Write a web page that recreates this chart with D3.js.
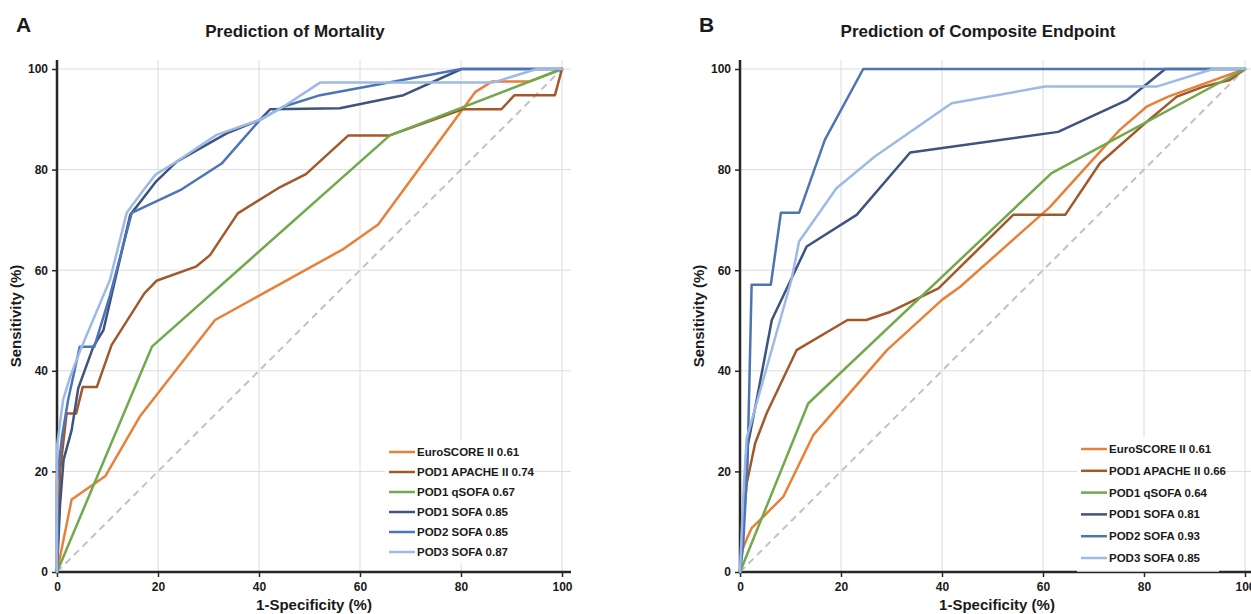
<!DOCTYPE html>
<html>
<head>
<meta charset="utf-8">
<script src="https://cdn.jsdelivr.net/npm/d3@7"></script>
<style>
  body { margin: 0; background: #fff; }
  svg { display: block; }
  text { font-family: "Liberation Sans", Arial, Helvetica, sans-serif; font-weight: bold; fill: #1a1a1a; }
</style>
</head>
<body>
<svg id="chart" width="1251" height="614"></svg>
<script>
// ---- Data: ROC curves, [1-specificity %, sensitivity %] ----
const tickValues = [0, 20, 40, 60, 80, 100];

// Panel A: prediction of mortality
const mortEuroscore = [[0,0],[2.9,14.4],[9.6,19.1],[16.4,30.9],[31.3,50.1],[56.7,64.2],[63.6,69.1],[82.8,95.4],[86.1,97.5],[93.5,97.5],[100,100]];
const mortApache = [[0,0],[0.6,20],[1.9,31.5],[3.8,31.5],[5.1,36.8],[7.9,36.8],[10.8,45.1],[17.3,55.4],[19.7,57.9],[27.5,60.7],[30.3,63.0],[35.8,71.3],[43.8,76.3],[49.3,79.1],[57.7,86.8],[65.9,86.8],[80.3,92.0],[88.0,92.0],[90.6,94.8],[98.6,94.8],[100,100]];
const mortQsofa = [[0,0],[18.8,44.8],[65.9,86.8],[100,100]];
const mortSofa1 = [[0,0],[0.6,13.3],[1.3,22.3],[2.9,28.2],[4.2,36.5],[7.2,44.8],[9.2,48.1],[14.5,71.0],[19.5,77.5],[23.7,81.6],[33.6,87.2],[40.2,89.9],[42.2,92.0],[56.0,92.2],[68.6,94.8],[80.1,100],[100,100]];
const mortSofa2 = [[0,0],[0,18],[1,27],[2.2,34.2],[4.5,44.8],[7.4,44.8],[10.5,55],[14.8,71.4],[24.4,75.9],[32.6,81.2],[40.2,89.9],[44.8,92.5],[52.1,94.8],[80.1,100],[100,100]];
const mortSofa3 = [[0,0],[0,25],[1.2,34.2],[2.6,38.8],[4.9,44.8],[10.5,58.1],[13.8,71.4],[17.1,75.9],[19.5,79.0],[23.7,81.6],[31.6,86.9],[40.2,89.9],[44.8,92.5],[52.1,97.3],[86.3,97.3],[95,100],[100,100]];
const mortLabels = ["EuroSCORE II 0.61","POD1 APACHE II 0.74","POD1 qSOFA 0.67","POD1 SOFA 0.85","POD2 SOFA 0.85","POD3 SOFA 0.87"];

// Panel B: prediction of composite endpoint
const compEuroscore = [[0,0],[0.3,4],[1.3,6.5],[2.3,8.7],[8.6,15.0],[14.5,27.2],[29.1,44.1],[40.0,54.1],[43.6,56.7],[61.4,72.6],[75.2,87.9],[80.5,92.5],[84.8,94.5],[91.1,96.8],[100,100]];
const compApache = [[0,0],[0.5,8],[1.3,17.5],[3.0,25.6],[5.3,31.6],[11.2,44.1],[21.3,50.1],[25.0,50.1],[29.7,51.7],[39.3,56.4],[54.1,71.0],[64.4,71.0],[71.3,81.3],[80.2,89.2],[86.5,94.5],[91.8,96.5],[97.0,97.8],[100,100]];
const compQsofa = [[0,0],[13.5,33.5],[61.7,79.3],[100,100]];
const compSofa1 = [[0,0],[0.5,10],[1.3,24],[3.3,34.2],[6.3,50.1],[13.2,64.7],[23.1,71.0],[33.7,83.4],[63.0,87.5],[76.6,93.8],[84.2,100],[100,100]];
const compSofa2 = [[0,0],[0.6,5],[1.5,22],[2.3,57.1],[6.1,57.1],[8.1,71.4],[11.7,71.4],[16.8,85.9],[24.4,100],[100,100]];
const compSofa3 = [[0,0],[0.6,14],[1.3,26.5],[10.2,58.1],[11.7,65.7],[19.1,76.3],[26.7,82.6],[41.9,93.2],[60.4,96.5],[82.5,96.5],[93.7,100],[100,100]];
const compLabels = ["EuroSCORE II 0.61","POD1 APACHE II 0.66","POD1 qSOFA 0.64","POD1 SOFA 0.81","POD2 SOFA 0.93","POD3 SOFA 0.85"];

const seriesColors = ["#E8803A", "#A3582B", "#72A94C", "#3E5380", "#4D74B7", "#9DBAE6"];

// ---- Layout ----
const panels = [
  { letter: "A", title: "Prediction of Mortality", left: 57,
    series: [mortEuroscore, mortApache, mortQsofa, mortSofa1, mortSofa2, mortSofa3],
    labels: mortLabels, legend: { x: 389, y: 452, step: 20 } },
  { letter: "B", title: "Prediction of Composite Endpoint", left: 740,
    series: [compEuroscore, compApache, compQsofa, compSofa1, compSofa2, compSofa3],
    labels: compLabels, legend: { x: 1081, y: 449, step: 21.8 } }
];

const plotW = 505, plotTop = 69, plotBottom = 572, overhang = 9;
const axisColor = "#262626", gridColor = "#DCDCDC";

const svg = d3.select("#chart");

panels.forEach(p => {
  const x = d3.scaleLinear().domain([0, 100]).range([p.left, p.left + plotW]);
  const y = d3.scaleLinear().domain([0, 100]).range([plotBottom, plotTop]);
  const g = svg.append("g");

  // gridlines
  g.append("g").selectAll("line").data(tickValues.slice(1)).join("line")
    .attr("x1", d => x(d)).attr("x2", d => x(d))
    .attr("y1", y(0)).attr("y2", y(100) - overhang)
    .attr("stroke", gridColor).attr("stroke-width", 1);
  g.append("g").selectAll("line").data(tickValues.slice(1)).join("line")
    .attr("x1", x(0)).attr("x2", x(100) + overhang)
    .attr("y1", d => y(d)).attr("y2", d => y(d))
    .attr("stroke", gridColor).attr("stroke-width", 1);

  // axes
  const yAxis = g.append("g").attr("transform", `translate(${x(0)},0)`)
    .call(d3.axisLeft(y).tickValues(tickValues).tickSize(5).tickSizeOuter(0).tickPadding(4));
  const xAxis = g.append("g").attr("transform", `translate(0,${y(0)})`)
    .call(d3.axisBottom(x).tickValues(tickValues).tickSize(5).tickSizeOuter(0).tickPadding(5));
  [yAxis, xAxis].forEach(a => {
    a.select(".domain").remove();
    a.selectAll(".tick line").attr("stroke", axisColor).attr("stroke-width", 1.5);
    a.selectAll(".tick text").attr("font-size", 12).attr("fill", axisColor)
      .style("font-family", '"Liberation Sans", Arial, sans-serif').style("font-weight", "bold");
  });
  g.append("line").attr("x1", x(0)).attr("x2", x(0))
    .attr("y1", y(100) - overhang).attr("y2", y(0) + 1.5)
    .attr("stroke", axisColor).attr("stroke-width", 2.5);
  g.append("line").attr("x1", x(0) - 1).attr("x2", x(100) + overhang)
    .attr("y1", y(0)).attr("y2", y(0))
    .attr("stroke", axisColor).attr("stroke-width", 2.5);

  // reference diagonal
  g.append("line").attr("x1", x(0)).attr("y1", y(0)).attr("x2", x(100)).attr("y2", y(100))
    .attr("stroke", "#C2C2C2").attr("stroke-width", 2).attr("stroke-dasharray", "7,5");

  // ROC curves
  const line = d3.line().x(d => x(d[0])).y(d => y(d[1]));
  g.append("g").selectAll("path").data(p.series).join("path")
    .attr("d", line).attr("fill", "none")
    .attr("stroke", (d, i) => seriesColors[i])
    .attr("stroke-width", 2.5).attr("stroke-linejoin", "round").attr("stroke-linecap", "round");

  // legend
  const lg = g.append("g");
  lg.append("rect").attr("x", p.legend.x - 4).attr("y", p.legend.y - 12)
    .attr("width", 142).attr("height", p.legend.step * 6 + 4)
    .attr("fill", "#fff").attr("opacity", 0.85);
  const rows = lg.selectAll("g").data(p.labels).join("g")
    .attr("transform", (d, i) => `translate(${p.legend.x},${p.legend.y + i * p.legend.step})`);
  rows.append("line").attr("x1", 0).attr("x2", 26).attr("y1", 0).attr("y2", 0)
    .attr("stroke", (d, i) => seriesColors[i]).attr("stroke-width", 2.5);
  rows.append("text").attr("x", 28).attr("y", 0).attr("dy", "0.35em")
    .attr("font-size", 11.5).text(d => d);

  // titles
  const cx = (x(0) + x(100) + overhang) / 2;
  g.append("text").attr("x", cx - 19).attr("y", 37).attr("text-anchor", "middle")
    .attr("font-size", 17).text(p.title);
  g.append("text").attr("x", x(0) - 41).attr("y", 32).attr("font-size", 21).text(p.letter);
  g.append("text").attr("x", cx).attr("y", 610).attr("text-anchor", "middle")
    .attr("font-size", 15).text("1-Specificity (%)");
  g.append("text").attr("transform", `translate(${x(0) - 36},${(plotTop - overhang + plotBottom) / 2}) rotate(-90)`)
    .attr("text-anchor", "middle").attr("font-size", 15).text("Sensitivity (%)");
});
</script>
</body>
</html>
